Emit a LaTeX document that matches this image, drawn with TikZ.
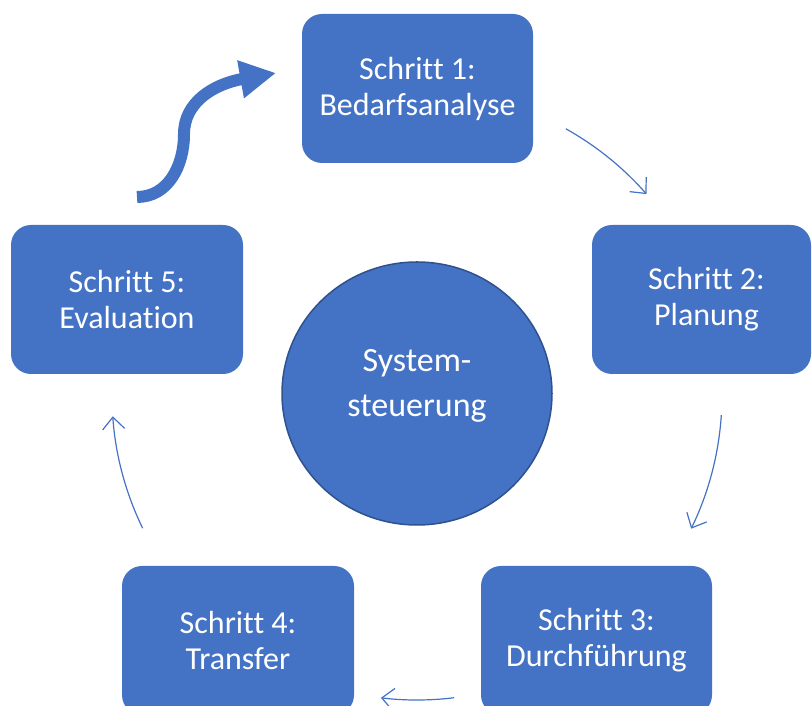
\documentclass[tikz,border=0pt]{standalone}
\usepackage{fontspec}
\setmainfont{Carlito}[Ligatures=NoCommon]
\usetikzlibrary{arrows.meta,calc,shapes.geometric}
\definecolor{obl}{HTML}{4472C4}
\definecolor{obd}{HTML}{2F528F}
\begin{document}
\begin{tikzpicture}[x=1pt,y=1pt,
  stepbox/.style={fill=obl, draw=none, rounded corners=20pt, text=white, align=center,
    font=\fontsize{32}{36}\selectfont, inner sep=0pt, minimum height=149pt},
  cyc/.style={draw=obl, line width=1.2pt, -{Straight Barb[length=12pt,width=22pt]}},
  bigarrow/.style={draw=obl, line width=12pt, -{Triangle[length=36pt,width=36pt]}}]
\useasboundingbox (0,0) rectangle (812,706);
% step boxes
\node[stepbox, minimum width=231pt] (s1) at (417.5,617.5) {Schritt 1:\\Bedarfsanalyse};
\node[stepbox, minimum width=219pt] (s2) at (701.5,406.5) {\hspace*{10pt}Schritt 2:\\\hspace*{10pt}Planung};
\node[stepbox, minimum width=231pt] (s3) at (596.5,65.5) {Schritt 3:\\Durchführung};
\node[stepbox, minimum width=232pt] (s4) at (238,65.5) {Schritt 4:\\Transfer};
\node[stepbox, minimum width=232pt] (s5) at (127,406.5) {Schritt 5:\\Evaluation};
% centre circle
\node[ellipse, fill=obl, draw=obd, line width=1.5pt, minimum width=270pt, minimum height=263pt, inner sep=0pt] (sys) at (417,312.5) {};
\node[text=white, align=center, font=\fontsize{34}{45}\selectfont] (systext) at (417,320) {System-\\steuerung};
% cycle arrows (arcs round the centre)
\coordinate (c) at (417,311);
\coordinate (a1s) at ($(c)+(60.8:305)$);
\coordinate (a2s) at ($(c)+(-3.8:305)$);
\coordinate (a3s) at ($(c)+(-83:305)$);
\coordinate (a5s) at ($(c)+(205.9:305)$);
\draw[cyc] (a1s) arc[start angle=60.8, end angle=41.2, radius=305pt];
\draw[cyc] (a2s) arc[start angle=-3.8, end angle=-26, radius=305pt];
\draw[cyc] (a3s) arc[start angle=-83, end angle=-96.8, radius=305pt];
\draw[cyc] (a5s) arc[start angle=205.9, end angle=184, radius=305pt];
% thick curved arrow from step 5 to step 1
\coordinate (bs) at (137,509);
\coordinate (be) at (276,633);
\draw[bigarrow] (bs) .. controls (168,509) and (184,540) .. (184,572)
  .. controls (184,604) and (214,622) .. (be);
\end{tikzpicture}
\end{document}
